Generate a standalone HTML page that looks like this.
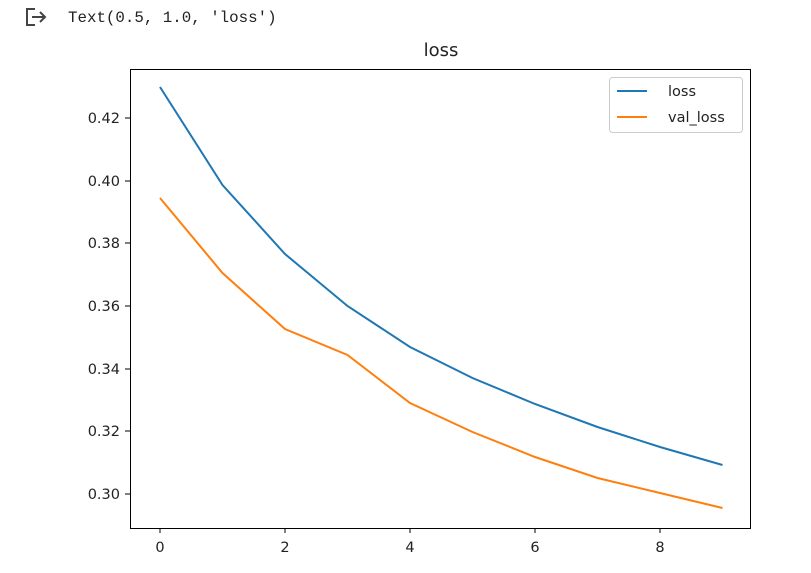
<!DOCTYPE html>
<html><head><meta charset="utf-8"><style>
body{margin:0;background:#fff;width:811px;height:568px;overflow:hidden}
</style></head><body>
<svg width="811" height="568" xmlns="http://www.w3.org/2000/svg" font-family="DejaVu Sans, Liberation Sans, sans-serif">
<g stroke="#444" stroke-width="2" fill="none">
<path d="M35 9 H27 V25 H35"/>
<path d="M32 17 H45 M40 12 L45 17 L40 22"/>
</g>
<text x="68" y="22" font-family="Liberation Mono, monospace" font-size="15.8" fill="#222">Text(0.5, 1.0, 'loss')</text>
<text x="441" y="56" font-size="18" text-anchor="middle" fill="#222">loss</text>
<rect x="130.5" y="69.5" width="620" height="459" fill="none" stroke="#000" stroke-width="1"/>
<g stroke="#000" stroke-width="1">
<line x1="160" y1="528" x2="160" y2="533"/><line x1="285" y1="528" x2="285" y2="533"/><line x1="410" y1="528" x2="410" y2="533"/><line x1="535" y1="528" x2="535" y2="533"/><line x1="660" y1="528" x2="660" y2="533"/>
<line x1="125" y1="118" x2="130" y2="118"/><line x1="125" y1="181" x2="130" y2="181"/><line x1="125" y1="243" x2="130" y2="243"/><line x1="125" y1="306" x2="130" y2="306"/><line x1="125" y1="369" x2="130" y2="369"/><line x1="125" y1="431" x2="130" y2="431"/><line x1="125" y1="494" x2="130" y2="494"/>
</g>
<g font-size="14.5" fill="#222" text-anchor="middle">
<text x="160" y="552">0</text><text x="285" y="552">2</text><text x="410" y="552">4</text><text x="535" y="552">6</text><text x="660" y="552">8</text>
</g>
<g font-size="14.5" fill="#222" text-anchor="end">
<text x="120" y="123">0.42</text><text x="120" y="186">0.40</text><text x="120" y="248">0.38</text><text x="120" y="311">0.36</text><text x="120" y="374">0.34</text><text x="120" y="436">0.32</text><text x="120" y="499">0.30</text>
</g>
<polyline fill="none" stroke="#1f77b4" stroke-width="2" points="160,87 222.5,185 285,254 347.5,306 410,347 472.5,378 535,404 597.5,427 660,447 722.5,465"/>
<polyline fill="none" stroke="#ff7f0e" stroke-width="2" points="160,198 222.5,273 285,329 347.5,355 410,403 472.5,432 535,457 597.5,478 660,493 722.5,508"/>
<rect x="609.5" y="77.5" width="133" height="55" rx="3" fill="#fff" stroke="#ccc"/>
<line x1="617" y1="91" x2="647" y2="91" stroke="#1f77b4" stroke-width="2"/>
<text x="668" y="96" font-size="14.5" fill="#222">loss</text>
<line x1="617" y1="117" x2="647" y2="117" stroke="#ff7f0e" stroke-width="2"/>
<text x="668" y="122" font-size="14.5" fill="#222">val_loss</text>
</svg>
</body></html>
